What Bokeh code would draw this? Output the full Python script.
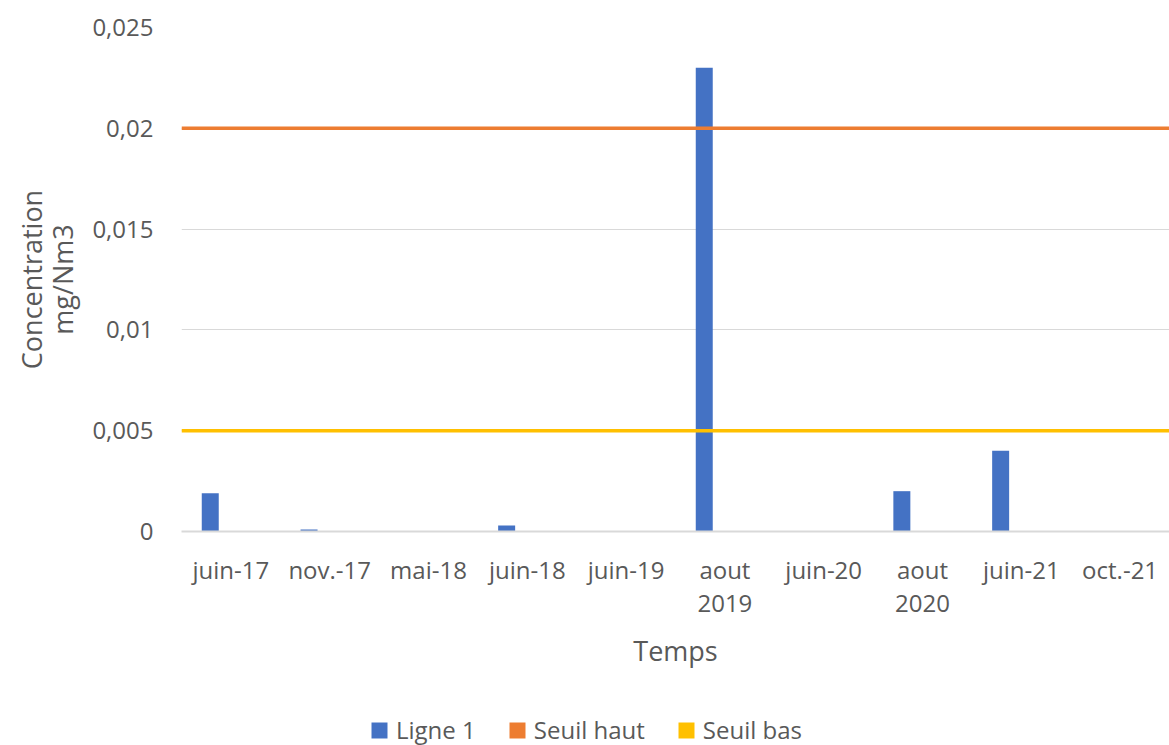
from bokeh.plotting import figure
from bokeh.layouts import column
from bokeh.models import ColumnDataSource, Range1d, FixedTicker, Legend, LegendItem
from bokeh.embed import file_html
from bokeh.resources import INLINE

categories = ["juin-17", "nov.-17", "mai-18", "juin-18", "juin-19", "aout\n2019",
              "juin-20", "aout\n2020", "juin-21", "oct.-21"]
ligne1 = [0.0019, 0.0001, 0.0, 0.0003, 0.0, 0.023, 0.0, 0.002, 0.004, 0.0]
seuil_haut = [0.02] * len(categories)
seuil_bas = [0.005] * len(categories)
y_ticks = [0, 0.005, 0.01, 0.015, 0.02, 0.025]
y_labels = ["0", "0,005", "0,01", "0,015", "0,02", "0,025"]
series_names = ["Ligne 1", "Seuil haut", "Seuil bas"]

FONT = "Open Sans"
TXT = "#595959"
BLUE, ORANGE, YELLOW = "#4472C4", "#ED7D31", "#FFC000"
n = len(categories)

p = figure(width=1169, height=700, output_backend="svg", toolbar_location=None,
           x_range=Range1d(0, n), y_range=Range1d(0, 0.025))
p.min_border_left = 181
p.min_border_right = 0
p.min_border_top = 27
p.min_border_bottom = 169
p.outline_line_color = None
p.background_fill_color = "white"
p.border_fill_color = "white"

centers = [i + 0.5 for i in range(n)]
src = ColumnDataSource(dict(x=[c - 0.209 for c in centers], top=ligne1))
p.vbar(x="x", top="top", bottom=0, width=0.172, source=src,
       fill_color=BLUE, line_color=None)
p.line([0, n], [seuil_haut[0], seuil_haut[-1]], line_color=ORANGE, line_width=3.5)
p.line([0, n], [seuil_bas[0], seuil_bas[-1]], line_color=YELLOW, line_width=3.5)

# axes
p.xaxis.ticker = FixedTicker(ticks=centers)
p.xaxis.major_label_overrides = {c: lab for c, lab in zip(centers, categories)}
p.yaxis.ticker = FixedTicker(ticks=y_ticks)
p.yaxis.major_label_overrides = {t: lab for t, lab in zip(y_ticks, y_labels)}

for ax in (p.xaxis[0], p.yaxis[0]):
    ax.major_tick_line_color = None
    ax.minor_tick_line_color = None
    ax.major_tick_out = 0
    ax.major_tick_in = 0
    ax.minor_tick_out = 0
    ax.minor_tick_in = 0
    ax.major_label_text_font = FONT
    ax.major_label_text_font_size = "24px"
    ax.major_label_text_color = TXT
    ax.major_label_text_line_height = 1.0
    ax.axis_label_text_font = FONT
    ax.axis_label_text_font_size = "27px"
    ax.axis_label_text_color = TXT
    ax.axis_label_text_font_style = "normal"
    ax.axis_label_text_line_height = 0.85

p.xaxis.axis_line_color = "#D9D9D9"
p.xaxis.axis_line_width = 2
p.yaxis.axis_line_color = None
p.xaxis.major_label_standoff = 21
p.yaxis.major_label_standoff = 28
p.xaxis.axis_label = "Temps"
p.xaxis.axis_label_standoff = 10
p.yaxis.axis_label = "Concentration\nmg/Nm3"
p.yaxis.axis_label_standoff = 8

p.xgrid.grid_line_color = None
p.ygrid.grid_line_color = "#D9D9D9"
p.ygrid.grid_line_width = 1
p.ygrid.ticker = FixedTicker(ticks=y_ticks)

# legend strip below the chart (series proxies lie outside its visible range)
q = figure(width=1169, height=45, output_backend="svg", toolbar_location=None,
           x_range=Range1d(0, n), y_range=Range1d(1, 2))
q.min_border = 0
q.axis.visible = False
q.grid.visible = False
q.outline_line_color = None
q.border_fill_color = "white"
proxies = []
for vals, col in ((ligne1, BLUE), (seuil_haut, ORANGE), (seuil_bas, YELLOW)):
    proxies.append(q.rect(x=centers, y=vals, width=0.1, height=0.001,
                          fill_color=col, line_color=None))

legend = Legend(items=[LegendItem(label=lab, renderers=[r])
                       for lab, r in zip(series_names, proxies)],
                orientation="horizontal", location=(188, -1),
                label_text_font=FONT, label_text_font_size="24px",
                label_text_color=TXT, glyph_width=20, glyph_height=20,
                spacing=31, label_standoff=7, padding=0, margin=0,
                border_line_color=None, background_fill_alpha=0)
q.add_layout(legend, "center")

layout = column(p, q, spacing=0)
open("out.html", "w").write(file_html(layout, INLINE))
